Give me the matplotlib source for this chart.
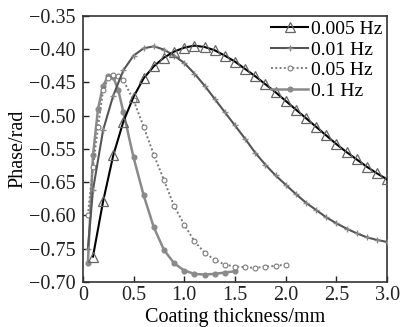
import matplotlib
matplotlib.use("Agg")
import matplotlib.pyplot as plt

plt.rcParams['font.family'] = ['Liberation Serif', 'DejaVu Serif']
plt.rcParams['mathtext.fontset'] = 'stix'

# 0.005 Hz
x_005 = [0.1, 0.2, 0.3, 0.4, 0.5, 0.6, 0.7, 0.8, 0.9, 1.0, 1.1, 1.2, 1.3, 1.4, 1.5,
         1.6, 1.7, 1.8, 1.9, 2.0, 2.1, 2.2, 2.3, 2.4, 2.5, 2.6, 2.7, 2.8, 2.9, 3.0]
y_005 = [-0.712, -0.629, -0.560, -0.509, -0.472, -0.444, -0.426, -0.413, -0.404, -0.398,
         -0.395, -0.397, -0.402, -0.410, -0.419, -0.430, -0.441, -0.453, -0.465, -0.478,
         -0.491, -0.504, -0.517, -0.530, -0.543, -0.555, -0.566, -0.577, -0.587, -0.596]

# 0.01 Hz
x_01 = [0.05, 0.1, 0.2, 0.3, 0.4, 0.5, 0.6, 0.7, 0.8, 0.9, 1.0, 1.1, 1.2, 1.3, 1.4, 1.5,
        1.6, 1.7, 1.8, 1.9, 2.0, 2.1, 2.2, 2.3, 2.4, 2.5, 2.6, 2.7, 2.8, 2.9, 3.0]
y_01 = [-0.700, -0.612, -0.522, -0.470, -0.432, -0.410, -0.399, -0.396, -0.401, -0.410,
        -0.421, -0.437, -0.455, -0.475, -0.495, -0.515, -0.535, -0.556, -0.574, -0.590,
        -0.604, -0.618, -0.631, -0.642, -0.653, -0.662, -0.670, -0.677, -0.683, -0.687, -0.690]

# 0.05 Hz
x_05 = [0.05, 0.1, 0.15, 0.2, 0.25, 0.3, 0.35, 0.4, 0.5, 0.6, 0.7, 0.8, 0.9, 1.0, 1.1,
        1.2, 1.3, 1.4, 1.5, 1.6, 1.7, 1.8, 1.9, 2.0]
y_05 = [-0.650, -0.577, -0.517, -0.462, -0.444, -0.439, -0.440, -0.447, -0.477, -0.517,
        -0.559, -0.597, -0.636, -0.664, -0.689, -0.706, -0.717, -0.724, -0.727, -0.728,
        -0.729, -0.727, -0.726, -0.724]

# 0.1 Hz
x_1 = [0.05, 0.1, 0.15, 0.2, 0.25, 0.3, 0.35, 0.4, 0.5, 0.6, 0.7, 0.8, 0.9, 1.0, 1.1,
       1.2, 1.3, 1.4, 1.5]
y_1 = [-0.722, -0.560, -0.490, -0.455, -0.441, -0.442, -0.462, -0.495, -0.563, -0.620,
       -0.668, -0.702, -0.722, -0.733, -0.738, -0.739, -0.738, -0.736, -0.734]

labels = ["0.005 Hz", "0.01 Hz", "0.05 Hz", "0.1 Hz"]

x_ticks = [0, 0.5, 1.0, 1.5, 2.0, 2.5, 3.0]
x_ticklabels = ["0", "0.5", "1.0", "1.5", "2.0", "2.5", "3.0"]
y_ticks = [-0.35, -0.40, -0.45, -0.50, -0.55, -0.60, -0.65, -0.70, -0.75]
y_ticklabels = ["\u22120.35", "\u22120.40", "\u22120.45", "\u22120.50", "\u22120.55",
                "\u22120.65", "\u22120.60", "\u22120.75", "\u22120.70"]

fig = plt.figure(figsize=(4.02, 3.27), dpi=100)
ax = fig.add_axes([0.206, 0.138, 0.757, 0.814])

ax.plot(x_1, y_1, color='#8a8a8a', lw=1.8, marker='o', ms=3.4,
        mfc='#8a8a8a', mec='#8a8a8a', label=labels[3], zorder=2)
ax.plot(x_05, y_05, color='#7a7a7a', lw=1.4, ls=(0, (1, 1.2)), marker='o', ms=3.5,
        mfc='white', mec='#7a7a7a', mew=0.8, label=labels[2], zorder=3)
ax.plot(x_01, y_01, color='#555555', lw=1.5, marker='+', ms=5,
        mec='#888888', mew=1.0, label=labels[1], zorder=4)
ax.plot(x_005, y_005, color='black', lw=1.5, marker='^', ms=6.5,
        mfc='none', mec='#666666', mew=0.9, label=labels[0], zorder=5)

ax.set_xlim(0, 3.0)
ax.set_ylim(-0.75, -0.35)
ax.set_xticks(x_ticks)
ax.set_xticklabels(x_ticklabels)
ax.set_yticks(y_ticks)
ax.set_yticklabels(y_ticklabels)
ax.tick_params(direction='in', length=4, width=1, labelsize=14.5, colors='#222222')
ax.tick_params(axis='y', pad=5)
ax.tick_params(axis='x', pad=3)
for s in ax.spines.values():
    s.set_color('#333333')
    s.set_linewidth(1.2)

ax.set_xlabel("Coating thickness/mm", fontsize=14.5, labelpad=2)
ax.set_ylabel("Phase/rad", fontsize=14.5, labelpad=1)

h, l = ax.get_legend_handles_labels()
order = [3, 2, 1, 0]
leg = ax.legend([h[i] for i in order], [l[i] for i in order], loc='upper right',
                frameon=False, fontsize=14, handlelength=1.9, handletextpad=0.15,
                labelspacing=0.15, borderaxespad=0.05, borderpad=0.2)

fig.savefig("out.png", dpi=100)
